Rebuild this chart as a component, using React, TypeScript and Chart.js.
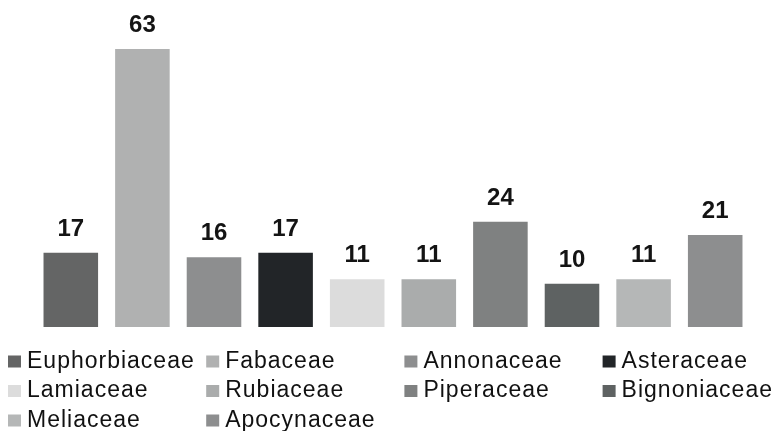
import React, { useEffect, useRef } from "react";
import { Chart, registerables } from "chart.js";

Chart.register(...registerables);

// Plant families and number of species per family
const families: string[] = [
  "Euphorbiaceae",
  "Fabaceae",
  "Annonaceae",
  "Asteraceae",
  "Lamiaceae",
  "Rubiaceae",
  "Piperaceae",
  "Bignoniaceae",
  "Meliaceae",
  "Apocynaceae",
];

const speciesCounts: number[] = [17, 63, 16, 17, 11, 11, 24, 10, 11, 21];

const familyColors: string[] = [
  "#646565",
  "#b0b1b1",
  "#8d8e8f",
  "#222528",
  "#dcdcdc",
  "#aaacac",
  "#7f8181",
  "#5e6262",
  "#b5b7b7",
  "#8d8e8f",
];

const WIDTH = 772;
const HEIGHT = 431;

// Value labels above each bar
const valueLabelsPlugin = {
  id: "valueLabels",
  afterDatasetsDraw(chart: any) {
    const ctx = chart.ctx;
    const meta = chart.getDatasetMeta(0);
    ctx.save();
    ctx.font = "bold 24px 'Liberation Sans', Arial, sans-serif";
    ctx.fillStyle = "#141414";
    ctx.textAlign = "center";
    ctx.textBaseline = "alphabetic";
    meta.data.forEach((bar: any, i: number) => {
      const v = chart.data.datasets[0].data[i];
      ctx.fillText(String(v), bar.x, bar.y - 16);
    });
    ctx.restore();
  },
};

// Legend laid out as a four-column grid below the plot
const gridLegendPlugin = {
  id: "gridLegend",
  afterDraw(chart: any) {
    const ctx = chart.ctx;
    const cols = 4;
    const colWidth = 198.2;
    const rowHeight = 29.5;
    const startX = 8;
    const firstRowY = 361.5;
    const box = 12;
    ctx.save();
    ctx.font = "23px 'Liberation Sans', Arial, sans-serif";
    (ctx as any).letterSpacing = "1px";
    ctx.textAlign = "left";
    ctx.textBaseline = "middle";
    chart.data.labels.forEach((label: string, i: number) => {
      const col = i % cols;
      const row = Math.floor(i / cols);
      const x = startX + col * colWidth;
      const y = firstRowY + row * rowHeight;
      ctx.fillStyle = chart.data.datasets[0].backgroundColor[i];
      ctx.fillRect(x, y - box / 2, box + 1, box);
      ctx.fillStyle = "#111111";
      ctx.fillText(label, x + 19, y);
    });
    ctx.restore();
  },
};

export default function App() {
  const canvasRef = useRef<HTMLCanvasElement | null>(null);

  useEffect(() => {
    document.body.style.margin = "0";
    document.body.style.background = "#ffffff";
    const canvas = canvasRef.current;
    if (!canvas) return;
    const chart = new Chart(canvas, {
      type: "bar",
      data: {
        labels: families,
        datasets: [
          {
            label: "Species",
            data: speciesCounts,
            backgroundColor: familyColors,
            borderColor: "rgba(255,255,255,0.25)",
            borderWidth: 1,
            barPercentage: 0.79,
            categoryPercentage: 1,
          },
        ],
      },
      options: {
        responsive: false,
        animation: false,
        devicePixelRatio: 1,
        layout: {
          padding: { left: 35, right: 21, top: 17, bottom: 104 },
        },
        scales: {
          x: { display: false },
          y: { display: false, min: 0, max: 70 },
        },
        plugins: {
          legend: { display: false },
          tooltip: { enabled: false },
        },
      },
      plugins: [valueLabelsPlugin, gridLegendPlugin],
    });
    return () => chart.destroy();
  }, []);

  return (
    <div style={{ position: "absolute", left: 0, top: 0, width: WIDTH, height: HEIGHT, background: "#fff" }}>
      <canvas ref={canvasRef} width={WIDTH} height={HEIGHT} />
    </div>
  );
}
